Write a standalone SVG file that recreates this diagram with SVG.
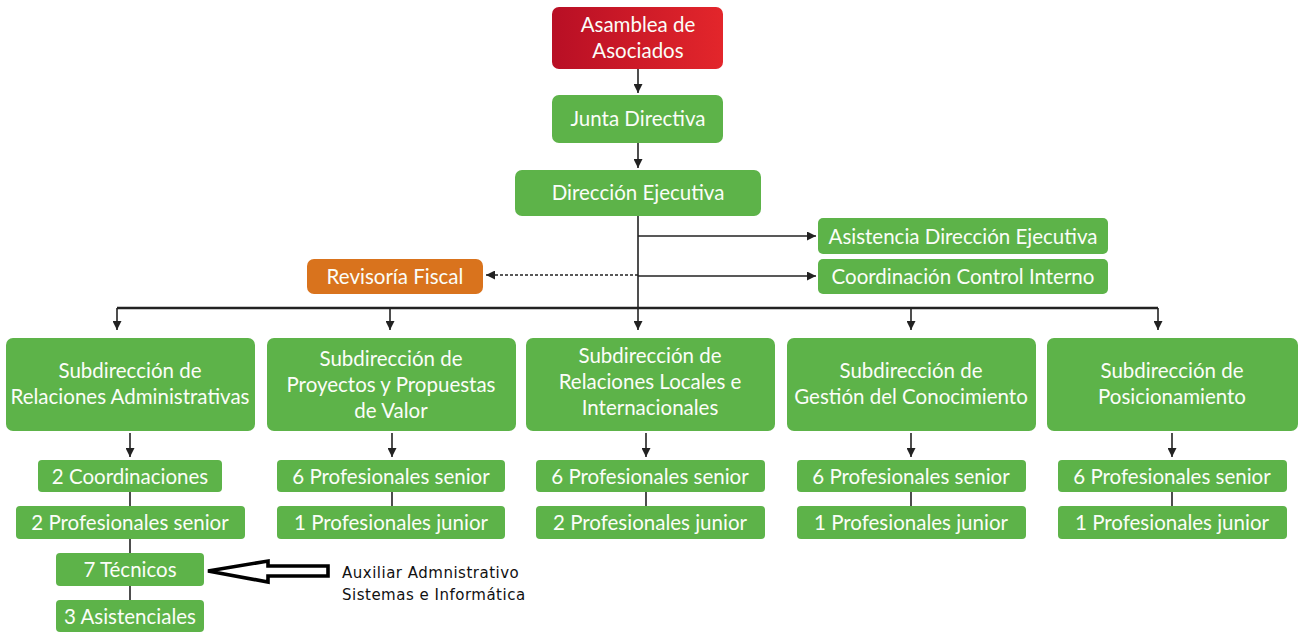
<svg xmlns="http://www.w3.org/2000/svg" width="1301" height="635" viewBox="0 0 1301 635">
<style>
.g{fill:#5db349}
.o{fill:#d9731d}
.t{font-family:Lato,"Open Sans",sans-serif;font-size:20.5px;fill:#fbfdf8;text-anchor:middle}
.c{stroke:#222;stroke-width:1.6;fill:none}
.d{stroke:#222;stroke-width:1.3;fill:none;stroke-dasharray:3,2}
.n{font-family:"DejaVu Sans",sans-serif;font-size:15px;letter-spacing:0.5px;fill:#111}
</style>
<defs>
<linearGradient id="red" x1="0" y1="0" x2="1" y2="0">
<stop offset="0" stop-color="#b80f25"/><stop offset="1" stop-color="#e3262b"/>
</linearGradient>
<marker id="ah" viewBox="0 0 10 10" refX="10" refY="5" markerWidth="9" markerHeight="9" orient="auto" markerUnits="userSpaceOnUse"><path d="M0,0L10,5L0,10z" fill="#222"/></marker>
</defs>
<g id="connectors">
<path class="c" d="M638,69V93" marker-end="url(#ah)"/>
<path class="c" d="M638,143V168" marker-end="url(#ah)"/>
<path class="c" d="M638,216V330" marker-end="url(#ah)"/>
<path class="c" d="M638,236H816" marker-end="url(#ah)"/>
<path class="c" d="M638,276H816" marker-end="url(#ah)"/>
<path class="d" d="M638,275H486" marker-end="url(#ah)"/>
<path d="M117,308H1158" stroke="#222" stroke-width="2.4" fill="none"/>
<path class="c" d="M117,308V330" marker-end="url(#ah)"/>
<path class="c" d="M390,308V330" marker-end="url(#ah)"/>
<path class="c" d="M911,308V330" marker-end="url(#ah)"/>
<path class="c" d="M1158,308V330" marker-end="url(#ah)"/>
<path class="c" d="M130,433V457" marker-end="url(#ah)"/>
<path class="c" d="M392,433V457" marker-end="url(#ah)"/>
<path class="c" d="M646,433V457" marker-end="url(#ah)"/>
<path class="c" d="M911,433V457" marker-end="url(#ah)"/>
<path class="c" d="M1172,433V457" marker-end="url(#ah)"/>
<path class="c" d="M130,492V506M130,539V553M130,586V600"/>
<path class="c" d="M392,492V506M646,492V506M911,492V506M1172,492V506"/>
<path d="M208,571L268,561V566H328V576H268V582Z" fill="#fff" stroke="#000" stroke-width="3.6" stroke-linejoin="miter"/>
</g>
<g id="asamblea"><rect x="552" y="7" width="171" height="62" rx="7" fill="url(#red)"/><text class="t" x="638" y="32">Asamblea de</text><text class="t" x="638" y="58">Asociados</text></g>
<g id="junta"><rect class="g" x="552" y="95" width="171" height="48" rx="7"/><text class="t" x="638" y="126">Junta Directiva</text></g>
<g id="direccion"><rect class="g" x="515" y="170" width="246" height="46" rx="7"/><text class="t" x="638" y="200">Dirección Ejecutiva</text></g>
<g id="asistencia"><rect class="g" x="818" y="218" width="290" height="36" rx="5"/><text class="t" x="963" y="244">Asistencia Dirección Ejecutiva</text></g>
<g id="control"><rect class="g" x="818" y="259" width="290" height="35" rx="5"/><text class="t" x="963" y="284">Coordinación Control Interno</text></g>
<g id="revisoria"><rect class="o" x="307" y="259" width="176" height="35" rx="7"/><text class="t" x="395" y="284">Revisoría Fiscal</text></g>
<g id="sub1"><rect class="g" x="6" y="338" width="249" height="93" rx="7"/><text class="t" x="130" y="378">Subdirección de</text><text class="t" x="130" y="404">Relaciones Administrativas</text></g>
<g id="sub2"><rect class="g" x="267" y="338" width="249" height="93" rx="7"/><text class="t" x="391" y="366">Subdirección de</text><text class="t" x="391" y="392">Proyectos y Propuestas</text><text class="t" x="391" y="418">de Valor</text></g>
<g id="sub3"><rect class="g" x="526" y="338" width="249" height="93" rx="7"/><text class="t" x="650" y="363">Subdirección de</text><text class="t" x="650" y="389">Relaciones Locales e</text><text class="t" x="650" y="415">Internacionales</text></g>
<g id="sub4"><rect class="g" x="787" y="338" width="249" height="93" rx="7"/><text class="t" x="911" y="378">Subdirección de</text><text class="t" x="911" y="404">Gestión del Conocimiento</text></g>
<g id="sub5"><rect class="g" x="1047" y="338" width="251" height="93" rx="7"/><text class="t" x="1172" y="378">Subdirección de</text><text class="t" x="1172" y="404">Posicionamiento</text></g>
<g id="c1a"><rect class="g" x="38" y="460" width="184" height="32" rx="4"/><text class="t" x="130" y="484">2 Coordinaciones</text></g>
<g id="c1b"><rect class="g" x="16" y="506" width="229" height="33" rx="4"/><text class="t" x="130" y="530">2 Profesionales senior</text></g>
<g id="c1c"><rect class="g" x="56" y="553" width="148" height="33" rx="4"/><text class="t" x="130" y="577">7 Técnicos</text></g>
<g id="c1d"><rect class="g" x="56" y="600" width="148" height="32" rx="4"/><text class="t" x="130" y="624">3 Asistenciales</text></g>
<g id="c2a"><rect class="g" x="277" y="460" width="228" height="32" rx="4"/><text class="t" x="391" y="484">6 Profesionales senior</text></g>
<g id="c2b"><rect class="g" x="277" y="506" width="228" height="33" rx="4"/><text class="t" x="391" y="530">1 Profesionales junior</text></g>
<g id="c3a"><rect class="g" x="536" y="460" width="229" height="32" rx="4"/><text class="t" x="650" y="484">6 Profesionales senior</text></g>
<g id="c3b"><rect class="g" x="536" y="506" width="229" height="33" rx="4"/><text class="t" x="650" y="530">2 Profesionales junior</text></g>
<g id="c4a"><rect class="g" x="797" y="460" width="229" height="32" rx="4"/><text class="t" x="911" y="484">6 Profesionales senior</text></g>
<g id="c4b"><rect class="g" x="797" y="506" width="229" height="33" rx="4"/><text class="t" x="911" y="530">1 Profesionales junior</text></g>
<g id="c5a"><rect class="g" x="1058" y="460" width="229" height="32" rx="4"/><text class="t" x="1172" y="484">6 Profesionales senior</text></g>
<g id="c5b"><rect class="g" x="1058" y="506" width="229" height="33" rx="4"/><text class="t" x="1172" y="530">1 Profesionales junior</text></g>
<g id="nota"><text class="n" x="342" y="578">Auxiliar Admnistrativo</text><text class="n" x="342" y="600">Sistemas e Informática</text></g>
</svg>
